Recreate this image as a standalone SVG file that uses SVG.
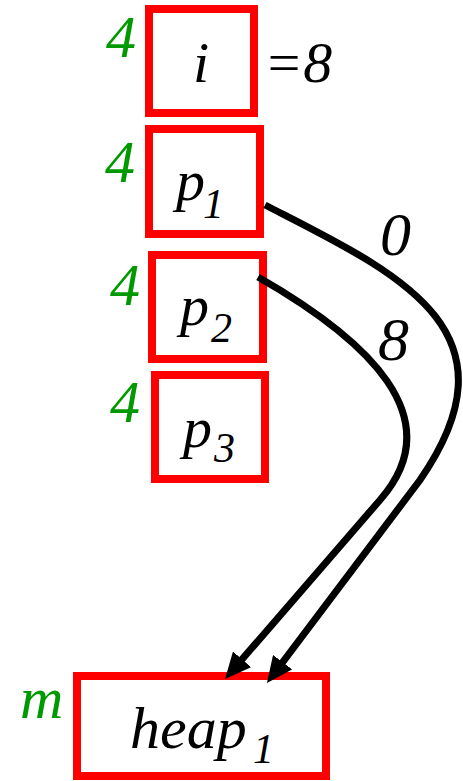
<svg xmlns="http://www.w3.org/2000/svg" width="463" height="781" viewBox="0 0 463 781">
<style>
.box{fill:#fff;stroke:#ff0000;stroke-width:8}
.t{fill:#000}
.g{fill:#009900;font-size:60px}
.c{fill:none;stroke:#000;stroke-width:7}
</style>
<defs>
<marker id="ah" markerUnits="userSpaceOnUse" viewBox="0 0 26 24" refX="12" refY="12" markerWidth="26" markerHeight="24" orient="auto">
<path d="M0,0 L26,12 L0,24 z" fill="#000"/>
</marker>
</defs>
<g font-family="Liberation Serif, DejaVu Serif, serif" font-style="italic">
<g id="node-i">
<rect class="box" x="149" y="9" width="105" height="104"/>
<text class="t" x="201" y="82" font-size="58" text-anchor="middle">i</text>
<text class="g" x="106" y="57">4</text>
<text class="t" x="264" y="82" font-size="58">=8</text>
</g>
<g id="node-p1">
<rect class="box" x="149" y="129" width="111" height="105"/>
<text class="t" x="176" y="200" font-size="58">p</text>
<text class="t" x="203" y="218" font-size="42">1</text>
<text class="g" x="105" y="182">4</text>
</g>
<g id="node-p2">
<rect class="box" x="152" y="255" width="111" height="104"/>
<text class="t" x="180" y="325" font-size="58">p</text>
<text class="t" x="211" y="342" font-size="42">2</text>
<text class="g" x="110" y="305">4</text>
</g>
<g id="node-p3">
<rect class="box" x="155" y="375" width="110" height="104"/>
<text class="t" x="183" y="447" font-size="58">p</text>
<text class="t" x="214" y="462" font-size="42">3</text>
<text class="g" x="110" y="422">4</text>
</g>
<g id="node-heap1">
<rect class="box" x="77" y="676" width="249" height="100"/>
<text class="t" x="130" y="748" font-size="60">heap</text>
<text class="t" x="253" y="763" font-size="42">1</text>
<text class="g" x="20" y="718">m</text>
</g>
<g id="connectors">
<path class="c" d="M265,205 C395,272 525,328 420,480 L275.4,671.8" marker-end="url(#ah)"/>
<path class="c" d="M258,277 C368,340 452,418 380,500 L234.2,668.4" marker-end="url(#ah)"/>
<text class="t" x="380" y="255" font-size="62">0</text>
<text class="t" x="378" y="360" font-size="62">8</text>
</g>
</g>
</svg>
